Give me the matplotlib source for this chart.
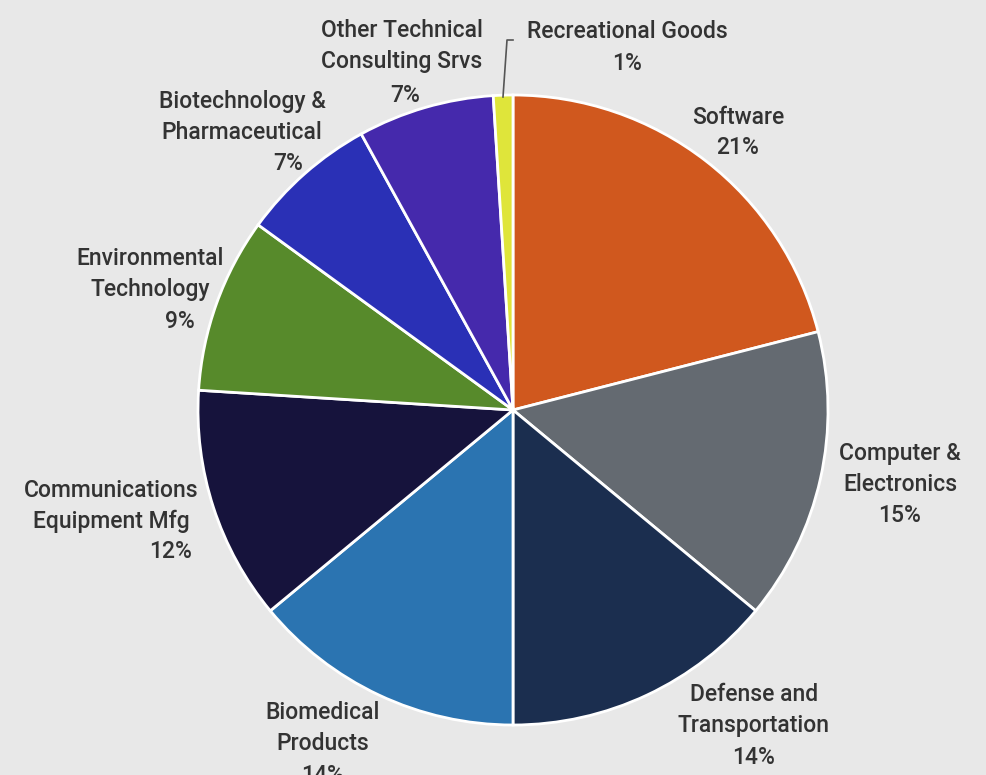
import matplotlib
matplotlib.use("Agg")
import matplotlib.pyplot as plt

# Share of companies by industry sector (percent)
sectors = [
    "Software",
    "Computer &\nElectronics",
    "Defense and\nTransportation",
    "Biomedical\nProducts",
    "Communications\nEquipment Mfg",
    "Environmental\nTechnology",
    "Biotechnology &\nPharmaceutical",
    "Other Technical\nConsulting Srvs",
    "Recreational Goods",
]
shares = [21, 15, 14, 14, 12, 9, 7, 7, 1]
colors = ["#D0581E", "#646A71", "#1B2E4F", "#2B74B1", "#16133C",
          "#578A2B", "#2A30B6", "#4529AC", "#DFE53A"]

W, H = 987, 775
BG = "#E8E8E8"
TXT = "#333333"

fig = plt.figure(figsize=(W / 100, H / 100), dpi=100, facecolor=BG)
ax = fig.add_axes([0, 0, 1, 1])
ax.set_facecolor(BG)

cx, cy, r = 513, H - 410, 315
ax.pie(shares, colors=colors, startangle=90, counterclock=False,
       center=(cx, cy), radius=r, frame=True,
       wedgeprops=dict(edgecolor="white", linewidth=2))
ax.set_xlim(0, W)
ax.set_ylim(0, H)
ax.set_aspect("equal")
ax.axis("off")

font = dict(family=["Roboto", "DejaVu Sans"], fontsize=16.5,
            fontweight="medium", color=TXT)

# name block centre (x, y in pixels from top) and percent position
label_pos = [
    ((738, 117), (738, 147)),
    ((900, 469), (900, 516)),
    ((754, 710), (754, 758)),
    ((323, 728), (323, 775)),
    ((111, 506), (171, 552)),
    ((150, 274), (180, 322)),
    ((242, 117), (288, 163)),
    ((402, 46), (405, 95)),
    ((627, 31), (627, 64)),
]

for name, val, ((nx, ny), (px, py)) in zip(sectors, shares, label_pos):
    ax.text(nx, H - ny, name, ha="center", va="center",
            multialignment="center", linespacing=1.4, **font)
    ax.text(px, H - py, f"{val}%", ha="center", va="center", **font)

# leader line for the smallest slice
ax.plot([503, 507, 513], [H - 97, H - 40, H - 40], color="#555555", lw=1.2)

fig.savefig("out.png", dpi=100, facecolor=BG)
